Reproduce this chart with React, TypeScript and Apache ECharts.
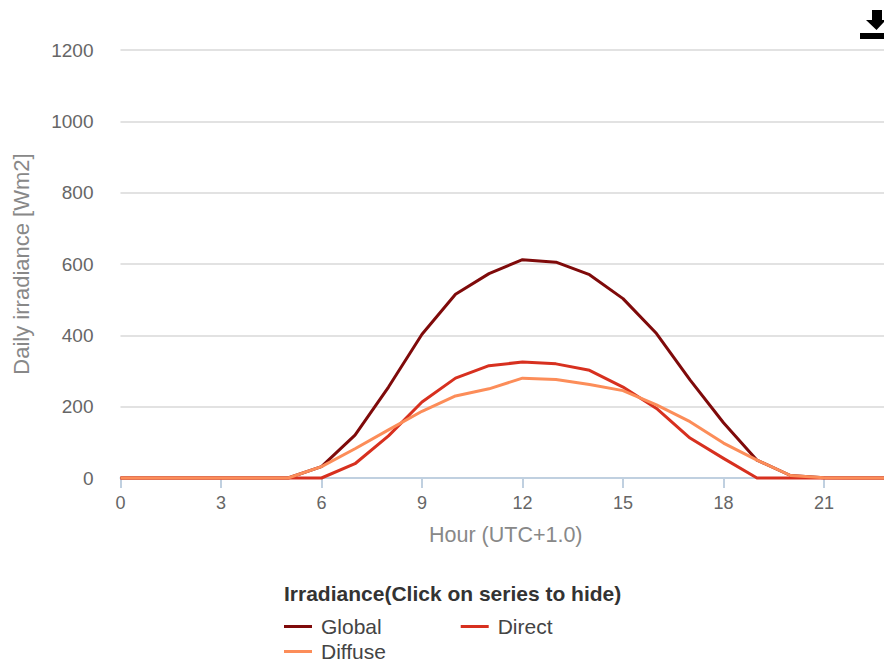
import React, { useEffect, useRef } from "react";
import * as echarts from "echarts";

const hours = [0,1,2,3,4,5,6,7,8,9,10,11,12,13,14,15,16,17,18,19,20,21,22,23];
const globalValues = [0,0,0,0,0,0,32,120,255,403,515,573,612,605,570,503,405,275,155,50,7,1,0,0];
const directValues = [0,0,0,0,0,0,0,40,118,213,280,315,325,320,302,255,195,112,55,0,0,0,0,0];
const diffuseValues = [0,0,0,0,0,0,32,82,135,187,230,250,280,276,262,245,205,158,98,50,7,1,0,0];
const yTicks = { min: 0, max: 1200, interval: 200 };
const legendTitle = "Irradiance(Click on series to hide)";
const FONT = "'Liberation Sans', Arial, sans-serif";

const pairs = (v: number[]) => hours.map((h, i) => [h, v[i]]);

echarts.graphic.registerShape(
  "downloadIcon",
  echarts.graphic.extendPath("M872 10H882V20H886L876.5 30L866 20H872ZM860 33H890V39H860Z" as any, {}) as any
);

export default function App() {
  const ref = useRef<HTMLDivElement>(null);
  useEffect(() => {
    const chart = echarts.init(ref.current!, null, { renderer: "svg" });
    const line = (name: string, color: string, data: number[]) => ({
      name,
      type: "line",
      data: pairs(data),
      showSymbol: false,
      clip: false,
      lineStyle: { color, width: 3, join: "round" },
      itemStyle: { color },
      emphasis: { disabled: true },
    });
    chart.setOption({
      animation: false,
      backgroundColor: "#fff",
      grid: { left: 120.5, right: -7, top: 50, bottom: 185, outerBoundsMode: "none" },
      xAxis: {
        type: "value",
        min: 0,
        max: 23,
        interval: 3,
        name: "Hour (UTC+1.0)",
        nameLocation: "middle",
        nameGap: 46,
        nameTextStyle: { color: "#888", fontSize: 21.5, fontFamily: FONT },
        axisLine: { show: true, lineStyle: { color: "#C0D0E0", width: 2 } },
        axisTick: { show: true, length: 10, lineStyle: { color: "#C0D0E0", width: 2 } },
        axisLabel: { color: "#666", fontSize: 18, fontFamily: FONT, margin: 16, showMaxLabel: false },
        splitLine: { show: false },
      },
      yAxis: {
        type: "value",
        ...yTicks,
        name: "Daily irradiance [Wm2]",
        nameLocation: "middle",
        nameGap: 88,
        nameTextStyle: { color: "#888", fontSize: 22, fontFamily: FONT },
        axisLine: { show: false },
        axisTick: { show: false },
        axisLabel: { color: "#666", fontSize: 19, fontFamily: FONT, margin: 27, formatter: (v: number) => String(v) },
        splitLine: { show: true, lineStyle: { color: "#D8D8D8", width: 1.5 } },
      },
      legend: [
        {
          data: ["Global", "Direct"],
          left: 284,
          top: 616,
          padding: 0,
          itemWidth: 28,
          itemHeight: 3,
          itemGap: 79,
          icon: "rect",
          textStyle: { color: "#444", fontSize: 21, fontFamily: FONT, padding: [0, 0, 0, 4] },
        },
        {
          data: ["Diffuse"],
          left: 284,
          top: 641,
          padding: 0,
          itemWidth: 28,
          itemHeight: 3,
          icon: "rect",
          textStyle: { color: "#444", fontSize: 21, fontFamily: FONT, padding: [0, 0, 0, 4] },
        },
      ],
      series: [
        line("Global", "#7F0A0A", globalValues),
        line("Direct", "#D7301F", directValues),
        line("Diffuse", "#FC8D59", diffuseValues),
      ],
      graphic: [
        {
          type: "text",
          left: 284,
          top: 583,
          style: { text: legendTitle, fill: "#333", font: `bold 21px ${FONT}` },
        },
        {
          type: "downloadIcon",
          x: 0,
          y: 0,
          style: { fill: "#000" },
        },
      ],
    });
    return () => chart.dispose();
  }, []);
  return (
    <div style={{ position: "fixed", left: 0, top: 0, width: 884, height: 663, overflow: "hidden", background: "#fff" }}>
      <div ref={ref} style={{ width: 884, height: 663 }} />
    </div>
  );
}
